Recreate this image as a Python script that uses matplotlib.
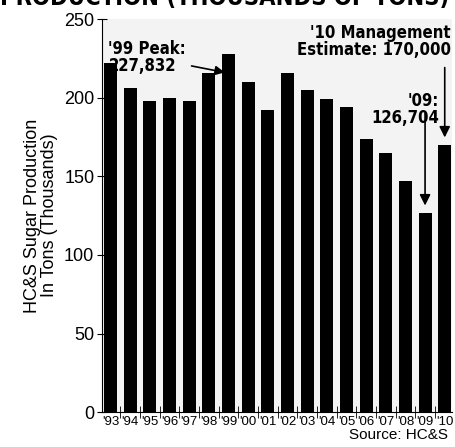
import matplotlib.pyplot as plt
import numpy as np

# HC&S sugar production, thousands of tons
years = ["'93", "'94", "'95", "'96", "'97", "'98", "'99", "'00", "'01",
         "'02", "'03", "'04", "'05", "'06", "'07", "'08", "'09", "'10"]
production = [222, 206, 198, 200, 198, 216, 227.832, 210, 192,
              216, 205, 199, 194, 174, 165, 147, 126.704, 170]

plt.rcParams['font.family'] = ['Liberation Sans', 'DejaVu Sans']
narrow = dict(family='DejaVu Sans', fontstretch='condensed')

fig = plt.figure(figsize=(4.55, 4.47), dpi=100)
ax = fig.add_axes([0.224, 0.078, 0.769, 0.879])
ax.set_facecolor('#f3f3f3')

x = np.arange(len(years))
ax.bar(x, production, width=0.66, color='black', zorder=2)

ax.set_xlim(-0.43, len(years) - 1 + 0.36)
ax.set_ylim(0, 250)
ax.set_yticks([0, 50, 100, 150, 200, 250])
ax.tick_params(axis='y', direction='inout', length=7, labelsize=13, pad=2)
ax.set_xticks(x)
ax.set_xticklabels(years, fontsize=9.5, fontstretch='condensed')
ax.set_xticks(x[:-1] + 0.5, minor=True)
ax.tick_params(axis='x', which='major', length=0, pad=3)
ax.tick_params(axis='x', which='minor', direction='inout', length=8)
for s in ['top', 'right']:
    ax.spines[s].set_visible(False)

ax.set_ylabel('HC&S Sugar Production\nIn Tons (Thousands)', fontsize=13,
              labelpad=4, linespacing=1.0)

bold = dict(narrow, fontweight='bold', fontsize=12, linespacing=0.95)
ax.annotate("'99 Peak:\n227,832", xy=(5.95, production[6] - 12),
            xytext=(-0.1, 237), va='top', ha='left', **bold,
            arrowprops=dict(arrowstyle='-|>', color='black', lw=1.2,
                            mutation_scale=14))
ax.annotate("'10 Management\nEstimate: 170,000", xy=(17, production[17] + 3),
            xytext=(17.3, 247), va='top', ha='right', **bold)
ax.annotate("", xy=(17, production[17] + 3), xytext=(17, 221),
            arrowprops=dict(arrowstyle='-|>', color='black', lw=1.2,
                            mutation_scale=16))
ax.text(16.7, 204, "'09:\n126,704", va='top', ha='right', **bold)
ax.annotate("", xy=(16, production[16] + 3), xytext=(16, 192),
            arrowprops=dict(arrowstyle='-|>', color='black', lw=1.2,
                            mutation_scale=16))

fig.text(0.0, 1.005, 'PRODUCTION (THOUSANDS OF TONS)', fontweight='bold',
         fontsize=17, ha='left', va='center', **narrow)
fig.text(0.985, 0.012, 'Source: HC&S', fontsize=11, ha='right', va='bottom')

fig.savefig('out.png', dpi=100)
